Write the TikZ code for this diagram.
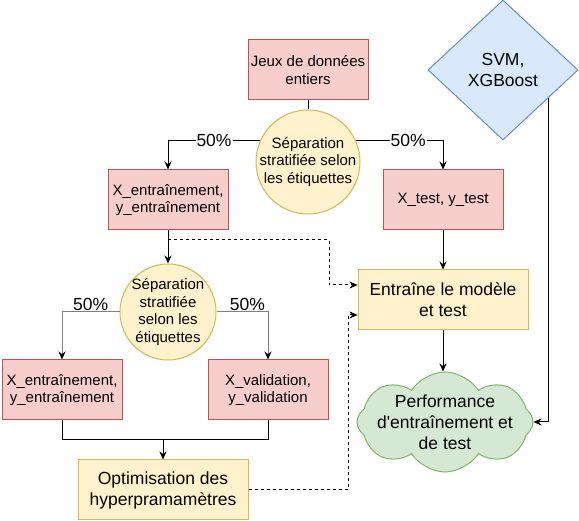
\documentclass[tikz,border=0pt]{standalone}
\usepackage{fontspec}
\setmainfont{Liberation Sans}[Ligatures=TeXOff]
\usepackage{tikz}
\usetikzlibrary{calc,arrows.meta,shapes.geometric,shapes.symbols}
\definecolor{redfill}{HTML}{F8CECC}
\definecolor{redline}{HTML}{B85450}
\definecolor{yelfill}{HTML}{FFF2CC}
\definecolor{yelline}{HTML}{D6B656}
\definecolor{bluefill}{HTML}{DAE8FC}
\definecolor{blueline}{HTML}{6C8EBF}
\definecolor{grnfill}{HTML}{D5E8D4}
\definecolor{grnline}{HTML}{82B366}
\definecolor{wire}{HTML}{808080}
\tikzset{
  databox/.style={draw=redline, fill=redfill, line width=1pt, minimum width=120pt, minimum height=60pt, inner sep=0pt, align=center, font=\fontsize{15}{17.5}\selectfont},
  split/.style={circle, draw=yelline, fill=yelfill, line width=1pt, inner sep=-8pt, align=center, font=\fontsize{15}{17.5}\selectfont},
  stage/.style={draw=yelline, fill=yelfill, line width=1pt, minimum width=170pt, minimum height=60pt, inner sep=0pt, align=center, font=\fontsize{17.5}{21}\selectfont},
  model/.style={diamond, draw=blueline, fill=bluefill, line width=1pt, minimum width=150pt, minimum height=140pt, inner sep=0pt, align=center, font=\fontsize{17.5}{21}\selectfont},
  result/.style={cloud, cloud puffs=8, cloud puff arc=115, aspect=1.8, draw=grnline, fill=grnfill, line width=1pt, minimum width=176pt, minimum height=100pt, inner sep=0pt},
  restext/.style={align=center, font=\fontsize{17.5}{21}\selectfont},
  plain/.style={draw=black, line width=1pt},
  link/.style={plain, -{Stealth[length=8pt,width=7pt]}},
  weak/.style={draw=wire, line width=1pt, -{Stealth[length=8pt,width=7pt,color=black]}},
  hint/.style={link, dash pattern=on 3pt off 3pt},
  pct/.style={font=\fontsize{17.5}{21}\selectfont, inner sep=1pt}
}
\begin{document}
\begin{tikzpicture}[x=1pt,y=-1pt]
  \useasboundingbox (0,0) rectangle (579,521);
  % boxes
  \node[databox] (jeux) at (308,70) {Jeux de données\\entiers};
  \node[split, minimum size=104pt] (sep1) at (308,162) {Séparation\\stratifiée selon\\les étiquettes};
  \node[databox] (xtr1) at (168,200) {X\_entraînement,\\y\_entraînement};
  \node[databox] (xte) at (443,200) {X\_test, y\_test};
  \node[model] (svm) at (503,70) {SVM,\\XGBoost};
  \node[stage] (ent) at (443,300) {Entraîne le modèle\\et test};
  \node[split, minimum size=96pt] (sep2) at (168,312) {Séparation\\stratifiée\\selon les\\étiquettes};
  \node[databox] (xtr2) at (62,390) {X\_entraînement,\\y\_entraînement};
  \node[databox] (xva) at (268,390) {X\_validation,\\y\_validation};
  \node[stage] (opt) at (163,490) {Optimisation des\\hyperpramamètres};
  \node[result] (perf) at (445,422) {};
  \node[restext] (perftxt) at (perf.center) {Performance\\d'entraînement et\\de test};
  % bends
  \coordinate (merge) at (163,440);
  \coordinate (tap) at (168,240);
  \coordinate (bend1) at (329,285);
  \coordinate (bend2) at (348,315);
  \coordinate (svmtap) at ($(svm.east)!0.4!(svm.south)$);
  % connectors
  \draw[plain] (jeux) -- (sep1);
  \draw[link] (sep1.156) -| node[pct, fill=white, pos=0.25] {50\%} (xtr1.north);
  \draw[link] (sep1.24) -| node[pct, fill=white, pos=0.3] {50\%} (xte.north);
  \draw[link] (xtr1) -- (sep2);
  \draw[weak] (sep2.west) -| node[pct, above, pos=0.25] {50\%} (xtr2.north);
  \draw[weak] (sep2.east) -| node[pct, above, pos=0.3] {50\%} (xva.north);
  \draw[plain] (xtr2.south) |- (merge);
  \draw[plain] (xva.south) |- (merge);
  \draw[link] (merge) -- (opt);
  \draw[link] (xte) -- (ent);
  \draw[link] (ent.south) -- (ent.south |- perf.north);
  \draw[hint] (tap) -| (bend1) -- (bend1 -| ent.west);
  \draw[hint] (opt.east) -| (bend2) -- (bend2 -| ent.west);
  \draw[link] (svmtap) |- (perf.east);
\end{tikzpicture}
\end{document}
